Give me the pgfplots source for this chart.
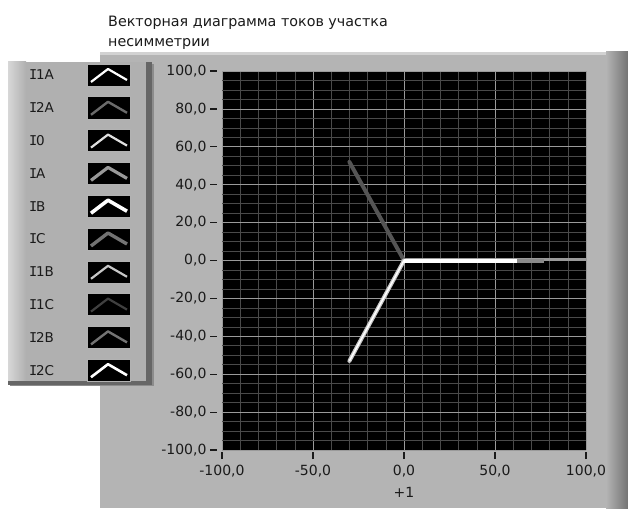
\documentclass[border=0pt]{standalone}
\usepackage{fontspec}
\setmainfont{DejaVu Sans}
\newfontfamily\monofont{DejaVu Sans Mono}
\newcommand{\sI}{{\monofont I}\kern-1.2pt}
\usepackage{pgfplots}
\pgfplotsset{compat=1.18}
\definecolor{panel}{HTML}{B4B4B4}
\definecolor{legbg}{HTML}{B0B0B0}
\definecolor{majgrid}{HTML}{9A9A9A}
\definecolor{mingrid}{HTML}{4A4A4A}
\definecolor{vdark}{HTML}{555555}
\definecolor{vlight}{HTML}{C8C8C8}
\definecolor{vgrey}{HTML}{9A9A9A}
\definecolor{vgrey2}{HTML}{8A8A8A}
\definecolor{txt}{HTML}{1A1A1A}
\begin{document}
\begin{tikzpicture}
\useasboundingbox (0pt,0pt) rectangle (628pt,-508pt);
\fill[white] (0pt,0pt) rectangle (628pt,-508pt);
\begin{scope}[x=1pt,y=-1pt]
  % panel
  \fill[panel] (100,52) rectangle (628,508);
  \fill[panel!60!white] (100,52) rectangle (628,55);
  \shade[left color=panel, right color=black!55] (606,52) rectangle (628,508);
  % title
  \node[anchor=base west, inner sep=0pt, text=txt, font=\fontsize{14.3}{16}\selectfont] at (108,26.5)
    {Векторная диаграмма токов участка};
  \node[anchor=base west, inner sep=0pt, text=txt, font=\fontsize{14.3}{16}\selectfont] at (108,47)
    {несимметрии};
  % legend box
  \fill[black!45] (10,64) rectangle (154,386);
  \fill[legbg] (8,62) rectangle (148,382);
  \shade[left color=legbg!50!white, right color=legbg] (8,62) rectangle (26,382);
  \fill[black!60] (146,62) rectangle (152,384);
  \fill[black!60] (8,381) rectangle (152,385);
  \foreach \lab/\col/\lw [count=\i from 0] in {1A/white/2.2, 2A/black!58/2.4, 0/white!88!black/2.2, A/black!40/3.2, B/white/3.6, C/black!55/3.4, 1B/black!22/2.2, 1C/black!75/2.2, 2B/black!55/2.4, 2C/white/2.6}{
    \pgfmathsetmacro{\yy}{75+32.8*\i}
    \node[anchor=west, inner sep=0pt, text=txt, font=\fontsize{13.5}{14}\selectfont] at (29,\yy) {\sI\lab};
    \fill[black] (87,\yy-11) rectangle (130,\yy+11);
    \draw[black!30, line width=0.6pt] (87,\yy-11) rectangle (130,\yy+11);
    \draw[\col, line width=\lw pt, line join=round] (91,\yy+7) -- (108,\yy-6) -- (127,\yy+5);
  }
\end{scope}
\begin{axis}[
  at={(222pt,-450pt)}, anchor=south west,
  width=364pt, height=379pt, scale only axis,
  xmin=-100, xmax=100, ymin=-100, ymax=100,
  xtick={-100,-50,0,50,100},
  ytick={-100,-80,-60,-40,-20,0,20,40,60,80,100},
  minor x tick num=4, minor y tick num=3,
  grid=both,
  major grid style={majgrid, line width=0.8pt},
  minor grid style={mingrid, line width=0.6pt},
  axis background/.style={fill=black},
  axis line style={draw=none},
  tick align=outside, tick pos=left,
  major tick length=7pt, minor tick length=0pt,
  every tick/.style={txt, line width=1.2pt},
  xtick style={yshift=-2pt},
  ytick style={xshift=-5pt},
  /pgf/number format/.cd, fixed, fixed zerofill, precision=1, use comma, assume math mode=true,
  /pgfplots/.cd,
  ticklabel style={font=\fontsize{14}{15}\selectfont, text=txt},
  yticklabel style={xshift=-5pt},
  xticklabel style={yshift=-5pt},
  xlabel={+1},
  xlabel style={font=\fontsize{14}{15}\selectfont, text=txt, yshift=-3pt},
  clip=true,
]
\addplot[vgrey, line width=3pt, line cap=round] coordinates {(0,0.6) (108,0.6)};
\addplot[vgrey2, line width=4pt] coordinates {(0,-0.5) (77,-0.5)};
\addplot[vdark, line width=4pt, line cap=round] coordinates {(0,0) (-30,52)};
\addplot[vlight, line width=4pt, line cap=round] coordinates {(0,0) (-30,-53)};
\addplot[white, line width=1.5pt] coordinates {(0,0) (-30,-53)};
\addplot[white, line width=4pt] coordinates {(0,0) (62,0)};
\end{axis}
\end{tikzpicture}
\end{document}
